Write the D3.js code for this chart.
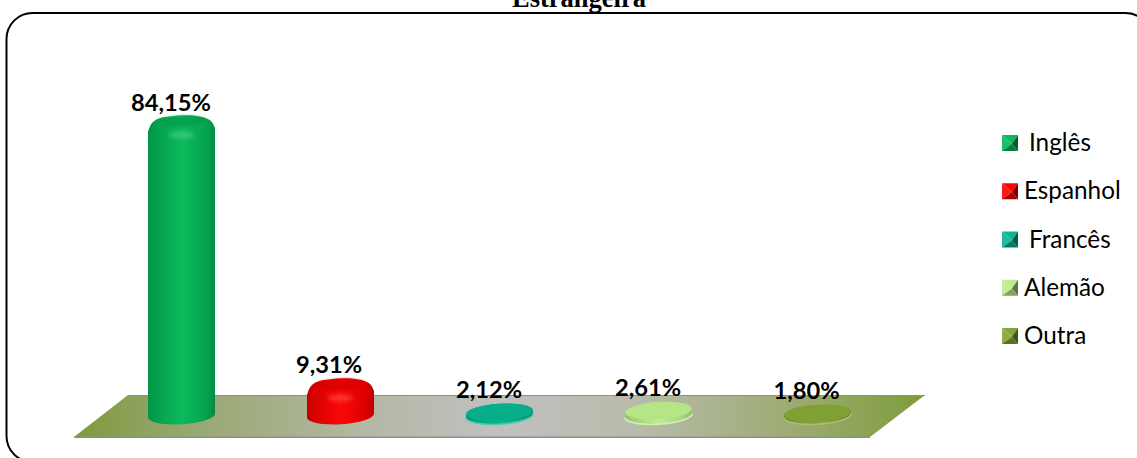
<!DOCTYPE html>
<html><head><meta charset="utf-8">
<script src="https://cdn.jsdelivr.net/npm/d3@7/dist/d3.min.js"></script>
<style>html,body{margin:0;padding:0;background:#fff;overflow:hidden}svg{display:block}</style>
</head><body><svg id="c" width="1137" height="458"></svg>
<script>
const categories = ["Inglês","Espanhol","Francês","Alemão","Outra"];
const values = [84.15,9.31,2.12,2.61,1.80];
const valueLabels = ["84,15%","9,31%","2,12%","2,61%","1,80%"];
const legendLabels = ["Inglês","Espanhol","Francês","Alemão","Outra"];
const titleText = "Estrangeira";
const baseColors = ["#04b858","#fa0000","#06b48e","#bcec8c","#84a436"];

const svg=d3.select("#c");
const defs=svg.append("defs");
const x=d3.scaleBand().domain(categories).range([102,897]).paddingInner(0.5786).paddingOuter(0.2893);
const y=d3.scaleLinear().domain([0,84.15]).range([410.7,115]);
const legY=d3.scalePoint().domain(categories).range([143,336]);

// frame and title
svg.append("rect").attr("x",6.5).attr("y",13).attr("width",1145).attr("height",449).attr("rx",26)
  .attr("fill","#fff").attr("stroke","#000").attr("stroke-width",2);
svg.append("text").attr("x",579).attr("y",7).attr("text-anchor","middle")
  .style("font","bold 26.5px 'Liberation Serif'").text(titleText);

// floor
const fg=defs.append("linearGradient").attr("id","floor");
[[0,"#7f9a3c"],[.12,"#95a66c"],[.35,"#b4b9a6"],[.5,"#c0c0c0"],[.66,"#b8bbab"],[.85,"#9bab70"],[1,"#7f9c3a"]]
  .forEach(s=>fg.append("stop").attr("offset",s[0]).attr("stop-color",s[1]));
svg.append("polygon").attr("points","74,437 128,395 925,395 870,437").attr("fill","url(#floor)");
svg.append("line").attr("x1",128).attr("x2",925).attr("y1",395.5).attr("y2",395.5).attr("stroke","#8f8f8f").attr("stroke-width",1);
svg.append("line").attr("x1",74).attr("x2",870).attr("y1",437.3).attr("y2",437.3).attr("stroke","#8f8f8f").attr("stroke-width",1.4);

const shade=(c,k)=>k<0?d3.interpolateRgb(c,"#000")(-k):d3.interpolateRgb(c,"#fff")(k);
categories.forEach((c,i)=>{
  const col=baseColors[i];
  const g=defs.append("linearGradient").attr("id","b"+i);
  [[0,-.2],[.1,-.14],[.5,.03],[.85,-.1],[1,-.24]].forEach(s=>g.append("stop").attr("offset",s[0]).attr("stop-color",shade(col,s[1])));
});

const tilt=-3.5, ry=8.6, baseCy=415.6;
const bars=svg.selectAll("g.bar").data(categories).join("g").attr("class","bar");
bars.each(function(c,i){
  const g=d3.select(this), w=x.bandwidth(), rx=w/2, cx=x(c)+rx;
  const topY=y(values[i]), topCy=topY+ry+.5;
  const dy=rx*Math.tan(-tilt*Math.PI/180);
  const tall=values[i]>5;
  const arc=`A${rx},${ry} ${tilt} 0 0`;
  const path=`M${cx-rx},${baseCy+dy}`+
    `${arc} ${cx+rx},${baseCy-dy}`+
    `L${cx+rx},${topCy-dy+(tall?6:0)}`+
    `${arc} ${cx-rx},${topCy+dy+(tall?6:0)}Z`;
  g.append("path").attr("d",path).attr("fill",`url(#b${i})`);
  if(tall){
    // rounded shoulder of the cylinder
    g.append("path").attr("d",`M${cx-rx},${topCy+dy+12}C${cx-rx},${topCy+dy-3} ${cx-rx+6},${topCy-ry+2} ${cx-12},${topCy-ry+1}`+
      `C${cx},${topCy-ry-1} ${cx+10},${topCy-ry-.5} ${cx+18},${topCy-ry+1}C${cx+rx-4},${topCy-ry+3} ${cx+rx},${topCy-dy} ${cx+rx},${topCy-dy+12}`+
      `${arc} ${cx-rx},${topCy+dy+12}Z`).attr("fill",`url(#b${i})`);
    g.append("ellipse").attr("cx",cx).attr("cy",topCy-2.5).attr("rx",rx-10).attr("ry",ry-3)
      .attr("transform",`rotate(${tilt} ${cx} ${topCy-2.5})`).attr("fill",shade(baseColors[i],-.16)).attr("opacity",.7)
      .style("filter","blur(1.5px)");
    g.append("ellipse").attr("cx",cx).attr("cy",topCy+11).attr("rx",13).attr("ry",3)
      .attr("fill",shade(baseColors[i],.35)).attr("opacity",.6).style("filter","blur(2px)");
  } else {
    g.append("ellipse").attr("cx",cx).attr("cy",topCy).attr("rx",rx).attr("ry",ry)
      .attr("transform",`rotate(${tilt} ${cx} ${topCy})`).attr("fill",shade(baseColors[i],-.03));
    g.append("path").attr("d",`M${cx-rx},${baseCy+dy}${arc} ${cx+rx},${baseCy-dy}`)
      .attr("fill","none").attr("stroke",shade(baseColors[i],.3)).attr("stroke-width",1.6);
  }
});

// value labels
const labelX=[171,329,489,648,806.5];
const labelY=[111,373,398,396,399];
svg.selectAll("text.val").data(categories).join("text").attr("class","val")
  .attr("x",(c,i)=>labelX[i]).attr("y",(c,i)=>labelY[i])
  .attr("text-anchor","middle")
  .style("font","bold 23.7px Lato").style("fill","#000").text((c,i)=>valueLabels[i]);

// legend
const s=16, lx=1002;
const leg=svg.selectAll("g.leg").data(categories).join("g").attr("class","leg")
  .attr("transform",c=>`translate(${lx},${legY(c)-8})`);
leg.each(function(c,i){
  const g=d3.select(this), col=baseColors[i], m=[s*.62,s*.55];
  [[[0,0],[s,0],m],[[0,0],[0,s],m],[[s,0],[s,s],m],[[0,s],[s,s],m]].forEach((p,j)=>{
    g.append("polygon").attr("points",[p[0],p[1],p[2]].join(" ")).attr("fill",shade(col,[.02,.1,-.5,-.3][j]));
  });
});
const legX=[1029,1024,1029,1024,1024];
svg.selectAll("text.leg").data(categories).join("text").attr("class","leg")
  .attr("x",(c,i)=>legX[i]).attr("y",c=>legY(c)+8)
  .style("font","24.3px Lato").style("fill","#000").text((c,i)=>legendLabels[i]);
</script></body></html>
